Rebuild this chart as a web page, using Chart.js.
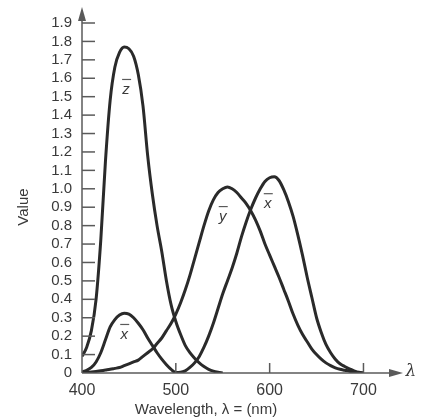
<!DOCTYPE html>
<html>
<head>
<meta charset="utf-8">
<script src="https://cdn.jsdelivr.net/npm/chart.js@4"></script>
<style>
    html, body { margin: 0; padding: 0; background: #ffffff; }
    #wrap { width: 423px; height: 420px; }
</style>
</head>
<body>
<div id="wrap"><canvas id="cieChart" width="423" height="420"></canvas></div>
<script>
const wavelengths = [400, 405, 410, 415, 420, 425, 430, 435, 440, 445, 450, 455, 460, 465, 470, 475, 480, 485, 490, 495,
    500, 505, 510, 515, 520, 525, 530, 535, 540, 545, 550, 555, 560, 565, 570, 575, 580, 585, 590, 595,
    600, 605, 610, 615, 620, 625, 630, 635, 640, 645, 650, 655, 660, 665, 670, 675, 680, 685, 690, 695, 700];

const xBar = [0.005, 0.015, 0.03, 0.06, 0.11, 0.18, 0.25, 0.29, 0.315, 0.325, 0.32, 0.30, 0.27, 0.235, 0.19, 0.15, 0.11, 0.075, 0.045, 0.02,
    0.003, 0.004, 0.012, 0.03, 0.055, 0.09, 0.14, 0.20, 0.27, 0.35, 0.43, 0.50, 0.57, 0.65, 0.74, 0.82, 0.89, 0.95, 1.00, 1.04,
    1.06, 1.065, 1.045, 0.995, 0.93, 0.85, 0.75, 0.64, 0.52, 0.41, 0.30, 0.22, 0.155, 0.11, 0.075, 0.05, 0.035, 0.022, 0.012, 0.004, 0];

const yBar = [0, 0.003, 0.005, 0.008, 0.012, 0.016, 0.02, 0.025, 0.03, 0.04, 0.05, 0.06, 0.07, 0.09, 0.11, 0.13, 0.16, 0.19, 0.23, 0.27,
    0.32, 0.38, 0.45, 0.53, 0.62, 0.71, 0.80, 0.88, 0.94, 0.98, 1.0, 1.01, 1.0, 0.98, 0.95, 0.92, 0.88, 0.83, 0.77, 0.70,
    0.64, 0.58, 0.52, 0.455, 0.39, 0.32, 0.26, 0.21, 0.17, 0.13, 0.10, 0.075, 0.055, 0.04, 0.028, 0.02, 0.015, 0.01, 0.006, 0.002, 0];

// z-bar stops at 550 nm
const zBar = [0.09, 0.14, 0.23, 0.40, 0.72, 1.15, 1.48, 1.66, 1.74, 1.77, 1.76, 1.72, 1.62, 1.45, 1.18, 0.97, 0.80, 0.66, 0.50, 0.37,
    0.28, 0.21, 0.15, 0.11, 0.08, 0.055, 0.035, 0.02, 0.01, 0.004, 0];

const xTicks = [400, 500, 600, 700];
const yTicks = [0, 0.1, 0.2, 0.3, 0.4, 0.5, 0.6, 0.7, 0.8, 0.9, 1.0, 1.1, 1.2, 1.3, 1.4, 1.5, 1.6, 1.7, 1.8, 1.9];

// curve name labels: [letter, wavelength, value]
const curveLabels = [
    ['z', 447, 1.55],
    ['x', 445, 0.22],
    ['y', 550, 0.86],
    ['x', 598, 0.93],
];

const colors = {
    curve: '#2a2a2a',
    axis: '#5a5a5a',
    text: '#3a3a3a',
};

const toPoints = (values) => values.map((v, i) => ({ x: wavelengths[i], y: v }));

const axesPlugin = {
    id: 'axesPlugin',
    afterDraw(chart) {
        const { ctx, scales } = chart;
        const x0 = scales.x.getPixelForValue(400);
        const y0 = scales.y.getPixelForValue(0);
        ctx.save();
        ctx.strokeStyle = colors.axis;
        ctx.fillStyle = colors.axis;
        ctx.lineWidth = 1.5;

        // y axis with arrow
        ctx.beginPath();
        ctx.moveTo(x0, y0);
        ctx.lineTo(x0, 18);
        ctx.stroke();
        ctx.beginPath();
        ctx.moveTo(x0, 7);
        ctx.lineTo(x0 - 4, 21);
        ctx.lineTo(x0 + 4, 21);
        ctx.closePath();
        ctx.fill();

        // x axis with arrow
        ctx.beginPath();
        ctx.moveTo(x0, y0);
        ctx.lineTo(392, y0);
        ctx.stroke();
        ctx.beginPath();
        ctx.moveTo(403, y0);
        ctx.lineTo(389, y0 - 4);
        ctx.lineTo(389, y0 + 4);
        ctx.closePath();
        ctx.fill();

        // inward ticks
        yTicks.forEach((v) => {
            if (v === 0) return;
            const py = scales.y.getPixelForValue(v);
            ctx.beginPath();
            ctx.moveTo(x0, py);
            ctx.lineTo(x0 + 13, py);
            ctx.stroke();
        });
        xTicks.forEach((v) => {
            if (v === 400) return;
            const px = scales.x.getPixelForValue(v);
            ctx.beginPath();
            ctx.moveTo(px, y0);
            ctx.lineTo(px, y0 - 10);
            ctx.stroke();
        });

        // axis titles
        ctx.fillStyle = colors.text;
        ctx.font = "15px 'Liberation Sans', Arial, sans-serif";
        ctx.textAlign = 'center';
        ctx.textBaseline = 'middle';
        ctx.fillText('Wavelength, \u03bb = (nm)', 206, 410);
        ctx.save();
        ctx.translate(24, 207);
        ctx.rotate(-Math.PI / 2);
        ctx.fillText('Value', 0, 0);
        ctx.restore();

        ctx.font = "italic 17px 'DejaVu Serif', serif";
        ctx.fillText('\u03bb', 411, y0 - 1);

        // curve labels with bars
        ctx.font = "italic 15px 'Liberation Sans', Arial, sans-serif";
        curveLabels.forEach(([letter, wl, v]) => {
            const px = scales.x.getPixelForValue(wl);
            const py = scales.y.getPixelForValue(v);
            ctx.fillText(letter, px, py + 2);
            ctx.lineWidth = 1.2;
            ctx.beginPath();
            ctx.moveTo(px - 4, py - 8);
            ctx.lineTo(px + 5, py - 8);
            ctx.stroke();
        });
        ctx.restore();
    },
};

const lineStyle = {
    borderColor: colors.curve,
    borderWidth: 3,
    pointRadius: 0,
    fill: false,
    cubicInterpolationMode: 'monotone',
};

new Chart(document.getElementById('cieChart'), {
    type: 'line',
    data: {
        datasets: [
            { label: 'z', data: toPoints(zBar), ...lineStyle },
            { label: 'x', data: toPoints(xBar), ...lineStyle },
            { label: 'y', data: toPoints(yBar), ...lineStyle },
        ],
    },
    options: {
        responsive: false,
        animation: false,
        layout: { padding: { top: 23, right: 22, left: 0, bottom: 0 } },
        plugins: {
            legend: { display: false },
            tooltip: { enabled: false },
        },
        scales: {
            x: {
                type: 'linear',
                min: 400,
                max: 740,
                grid: { display: false, drawTicks: false },
                border: { display: false },
                afterBuildTicks(scale) {
                    scale.ticks = xTicks.map((v) => ({ value: v }));
                },
                afterFit(scale) {
                    scale.height = 47;
                },
                ticks: {
                    color: colors.text,
                    padding: 8,
                    maxRotation: 0,
                    autoSkip: false,
                    font: { family: "'Liberation Sans', Arial, sans-serif", size: 16 },
                },
            },
            y: {
                min: 0,
                max: 1.9,
                grid: { display: false, drawTicks: false },
                border: { display: false },
                afterBuildTicks(scale) {
                    scale.ticks = yTicks.map((v) => ({ value: v }));
                },
                afterFit(scale) {
                    scale.width = 82;
                },
                ticks: {
                    color: colors.text,
                    padding: 10,
                    autoSkip: false,
                    callback: (v) => (v === 0 ? '0' : Number(v).toFixed(1)),
                    font: { family: "'Liberation Sans', Arial, sans-serif", size: 15 },
                },
            },
        },
    },
    plugins: [axesPlugin],
});
</script>
</body>
</html>
